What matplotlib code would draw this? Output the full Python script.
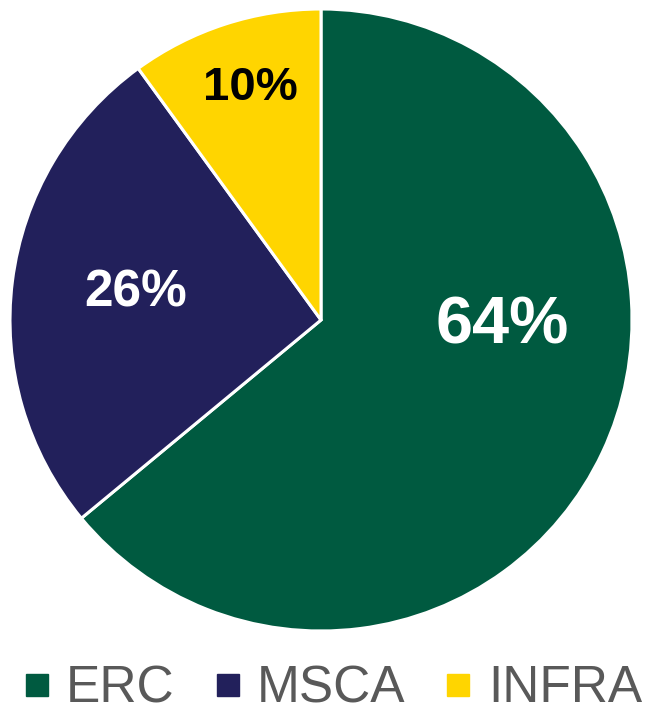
import matplotlib
matplotlib.use("Agg")
import matplotlib.pyplot as plt
from matplotlib.lines import Line2D

plt.rcParams['font.family'] = ['Liberation Sans', 'DejaVu Sans']

categories = ["ERC", "MSCA", "INFRA"]
values = [64, 26, 10]
labels = ["64%", "26%", "10%"]
colors = ["#005A40", "#22205B", "#FFD500"]
label_colors = ["white", "white", "black"]

W, H = 646, 711
fig = plt.figure(figsize=(W / 100, H / 100), dpi=100)

cx, cy, r = 321, 320, 311
ax = fig.add_axes([(cx - r) / W, (H - cy - r) / H, 2 * r / W, 2 * r / H])
wedges, _ = ax.pie(values, colors=colors, startangle=90, counterclock=False,
                   radius=1.0, wedgeprops=dict(edgecolor="white", linewidth=2.2))
ax.set_xlim(-1, 1)
ax.set_ylim(-1, 1)
ax.set_aspect("equal")
ax.axis("off")

# label positions (in pie units) and sizes
label_pos = [(0.583, -0.022), (-0.595, 0.087), (-0.227, 0.745)]
label_size = [48, 37, 34]
for lab, (x, y), s, c in zip(labels, label_pos, label_size, label_colors):
    ax.text(x, y, lab, ha="center", va="center", fontsize=s,
            fontweight="bold", color=c)

handles = [Line2D([0], [0], marker="s", linestyle="none", markersize=16,
                  markerfacecolor=col, markeredgecolor=col) for col in colors]
leg = fig.legend(handles, categories, loc="center", ncol=3,
                 bbox_to_anchor=(333.5 / W, 22 / H), frameon=False,
                 fontsize=37, handlelength=0.45, handletextpad=0.35,
                 columnspacing=0.8, borderpad=0, borderaxespad=0)
for t in leg.get_texts():
    t.set_color("#595959")

fig.savefig("out.png", dpi=100)
